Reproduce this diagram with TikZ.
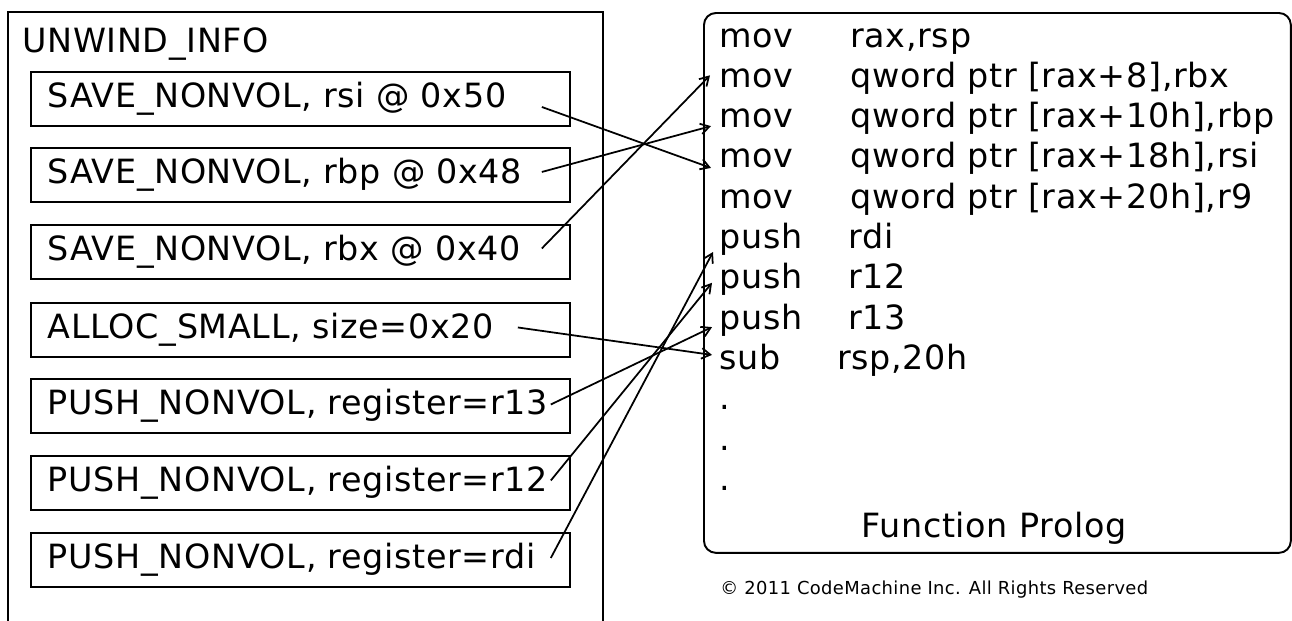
\documentclass[tikz,border=0pt]{standalone}
\usepackage{fontspec}
\setmainfont[LetterSpace=2]{DejaVu Sans}
\usetikzlibrary{arrows.meta}

\begin{document}
\begin{tikzpicture}[x=0.02cm,y=-0.02cm]
	\tikzstyle{entry} = [rectangle, draw=black, line width=1.1pt, text width=10.1cm, inner xsep=0.34cm, minimum height=1.08cm, align=left, anchor=north west, font=\fontsize{19}{23}\selectfont]
	\tikzstyle{code} = [inner sep=0, anchor=base west, font=\fontsize{19}{23}\selectfont]
	\tikzstyle{link} = [-{Straight Barb[length=5pt,width=6pt]}, line width=1pt]
	
	\useasboundingbox (0,0) rectangle (1292,620);
	
	% unwind info
	\draw[line width=1.1pt] (8,630) -- (8,12) -- (603,12) -- (603,630);
	\node (unwind) [code] at (22,52) {UNWIND\_INFO};
	
	\node (nvrsi) [entry] at (30,71) {SAVE\_NONVOL, rsi @ 0x50};
	\node (nvrbp) [entry] at (30,147) {SAVE\_NONVOL, rbp @ 0x48};
	\node (nvrbx) [entry] at (30,224) {SAVE\_NONVOL, rbx @ 0x40};
	\node (alloc) [entry] at (30,302) {ALLOC\_SMALL, size=0x20};
	\node (nvr13) [entry] at (30,378) {PUSH\_NONVOL, register=r13};
	\node (nvr12) [entry] at (30,455) {PUSH\_NONVOL, register=r12};
	\node (nvrdi) [entry] at (30,532) {PUSH\_NONVOL, register=rdi};
	
	% function prolog
	\node (prolog) [draw, line width=1.1pt, rounded corners=0.24cm, minimum width=11.74cm, minimum height=10.8cm, anchor=north west] at (703,12) {};
	
	\node (movrsp) [code] at (719,47) {mov};
	\node (movrbx) [code] at (719,87.3) {mov};
	\node (movrbp) [code] at (719,127.6) {mov};
	\node (movrsi) [code] at (719,167.9) {mov};
	\node (movr9) [code] at (719,208.2) {mov};
	\node (pushrdi) [code] at (719,248.5) {push};
	\node (pushr12) [code] at (719,288.8) {push};
	\node (pushr13) [code] at (719,329.1) {push};
	\node (subrsp) [code] at (719,369.4) {sub};
	\node (dot1) [code] at (719,409.7) {.};
	\node (dot2) [code] at (719,450) {.};
	\node (dot3) [code] at (719,490.3) {.};
	
	\node (oprsp) [code] at (850,47) {rax,rsp};
	\node (oprbx) [code] at (850,87.3) {qword ptr [rax+8],rbx};
	\node (oprbp) [code] at (850,127.6) {qword ptr [rax+10h],rbp};
	\node (oprsi) [code] at (850,167.9) {qword ptr [rax+18h],rsi};
	\node (opr9) [code] at (850,208.2) {qword ptr [rax+20h],r9};
	\node (oprdi) [code] at (848,248.5) {rdi};
	\node (opr12) [code] at (848,288.8) {r12};
	\node (opr13) [code] at (848,329.1) {r13};
	\node (opsub) [code] at (837,369.4) {rsp,20h};
	
	\node (prologname) [code, anchor=base] at (994,537) {Function Prolog};
	\node (copyright) [inner sep=0, anchor=base west, font=\fontsize{10.2}{12}\selectfont] at (720,594) {© 2011 CodeMachine Inc. All Rights Reserved};
	
	\draw[link] ([xshift=-0.58cm,yshift=-0.16cm]nvrsi.east) -- ([xshift=-0.16cm]movrsi.base west);
	\draw[link] ([xshift=-0.58cm,yshift=0.06cm]nvrbp.east) -- ([xshift=-0.16cm,yshift=0.03cm]movrbp.base west);
	\draw[link] ([xshift=-0.58cm,yshift=0.07cm]nvrbx.east) -- ([xshift=-0.18cm,yshift=0.24cm]movrbx.base west);
	\draw[link] ([xshift=-1.06cm,yshift=0.05cm]alloc.east) -- ([xshift=-0.14cm,yshift=0.29cm]subrsp.base west);
	\draw[link] ([xshift=-0.4cm,yshift=0.03cm]nvr13.east) -- ([xshift=-0.14cm,yshift=0.04cm]pushr13.base west);
	\draw[link] ([xshift=-0.4cm,yshift=0.05cm]nvr12.east) -- ([xshift=-0.14cm,yshift=0.12cm]pushr12.base west);
	\draw[link] ([xshift=-0.4cm,yshift=0.04cm]nvrdi.east) -- ([xshift=-0.12cm,yshift=-0.07cm]pushrdi.base west);
	
\end{tikzpicture}
\end{document}
